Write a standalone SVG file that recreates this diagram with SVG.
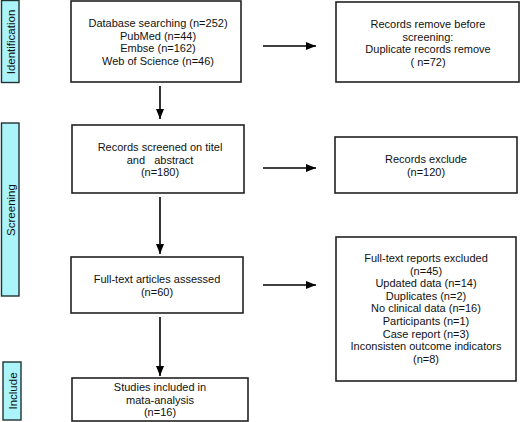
<svg xmlns="http://www.w3.org/2000/svg" width="520" height="422" viewBox="0 0 520 422">
<style>
.box{fill:#fff;stroke:#222;stroke-width:1.6}
.bar{fill:#aaf4fa;stroke:#233;stroke-width:1.4}
text{font-family:"Liberation Sans",Arial,sans-serif;font-size:11px;fill:#111;text-anchor:middle}
.lbl{font-size:11.5px}
.conn line{stroke:#000;stroke-width:1.6;fill:none}
</style>
<defs>
<marker id="ah" viewBox="0 0 10 10" refX="10" refY="5" markerWidth="10" markerHeight="10" markerUnits="userSpaceOnUse" orient="auto">
<path d="M0,1 L10,5 L0,9 Z" fill="#000"/>
</marker>
</defs>
<rect width="520" height="422" fill="#fff"/>

<g id="bar-identification">
<rect class="bar" x="1.5" y="0.5" width="17.5" height="82"/>
<text class="lbl" transform="translate(14.5,42) rotate(-90)">Identification</text>
</g>
<g id="bar-screening">
<rect class="bar" x="1.5" y="123" width="17.5" height="173"/>
<text class="lbl" transform="translate(14.5,210) rotate(-90)">Screening</text>
</g>
<g id="bar-include">
<rect class="bar" x="3" y="362" width="18" height="58"/>
<text class="lbl" transform="translate(16.5,391) rotate(-90)">Include</text>
</g>

<g id="db">
<rect class="box" x="71" y="1" width="170" height="81"/>
<text x="158" y="27">Database searching (n=252)</text>
<text x="158" y="39.5">PubMed (n=44)</text>
<text x="158" y="52">Embse (n=162)</text>
<text x="158" y="64.5">Web of Science (n=46)</text>
</g>
<g id="removed">
<rect class="box" x="336" y="2" width="183" height="80"/>
<text x="428" y="28">Records remove before</text>
<text x="428" y="40.5">screening:</text>
<text x="428" y="53">Duplicate records remove</text>
<text x="428" y="65.5">( n=72)</text>
</g>
<g id="screened">
<rect class="box" x="72" y="125" width="172" height="68"/>
<text x="160" y="151">Records screened on titel</text>
<text x="160" y="163.5" xml:space="preserve">and   abstract</text>
<text x="160" y="176">(n=180)</text>
</g>
<g id="excluded">
<rect class="box" x="335" y="137" width="182" height="56"/>
<text x="426" y="163">Records exclude</text>
<text x="426" y="175.5">(n=120)</text>
</g>
<g id="fulltext">
<rect class="box" x="71" y="257" width="172" height="56"/>
<text x="157" y="283">Full-text articles assessed</text>
<text x="157" y="295.5">(n=60)</text>
</g>
<g id="ftexcluded">
<rect class="box" x="336" y="237" width="180" height="144"/>
<text x="426" y="262">Full-text reports excluded</text>
<text x="426" y="274.6">(n=45)</text>
<text x="426" y="287.2">Updated data (n=14)</text>
<text x="426" y="299.8">Duplicates (n=2)</text>
<text x="426" y="312.4">No clinical data (n=16)</text>
<text x="426" y="325">Participants (n=1)</text>
<text x="426" y="337.6">Case report (n=3)</text>
<text x="426" y="350.2">Inconsisten outcome indicators</text>
<text x="426" y="362.8">(n=8)</text>
</g>
<g id="included">
<rect class="box" x="72" y="378" width="176" height="43"/>
<text x="160" y="391">Studies included in</text>
<text x="160" y="403.5">mata-analysis</text>
<text x="160" y="416">(n=16)</text>
</g>

<g class="conn" id="connectors">
<line x1="160" y1="86" x2="160" y2="119" marker-end="url(#ah)"/>
<line x1="160" y1="197" x2="160" y2="254" marker-end="url(#ah)"/>
<line x1="160" y1="317" x2="160" y2="376" marker-end="url(#ah)"/>
<line x1="263" y1="46" x2="316" y2="46" marker-end="url(#ah)"/>
<line x1="263" y1="168" x2="316" y2="168" marker-end="url(#ah)"/>
<line x1="263" y1="285" x2="316" y2="285" marker-end="url(#ah)"/>
</g>
</svg>
